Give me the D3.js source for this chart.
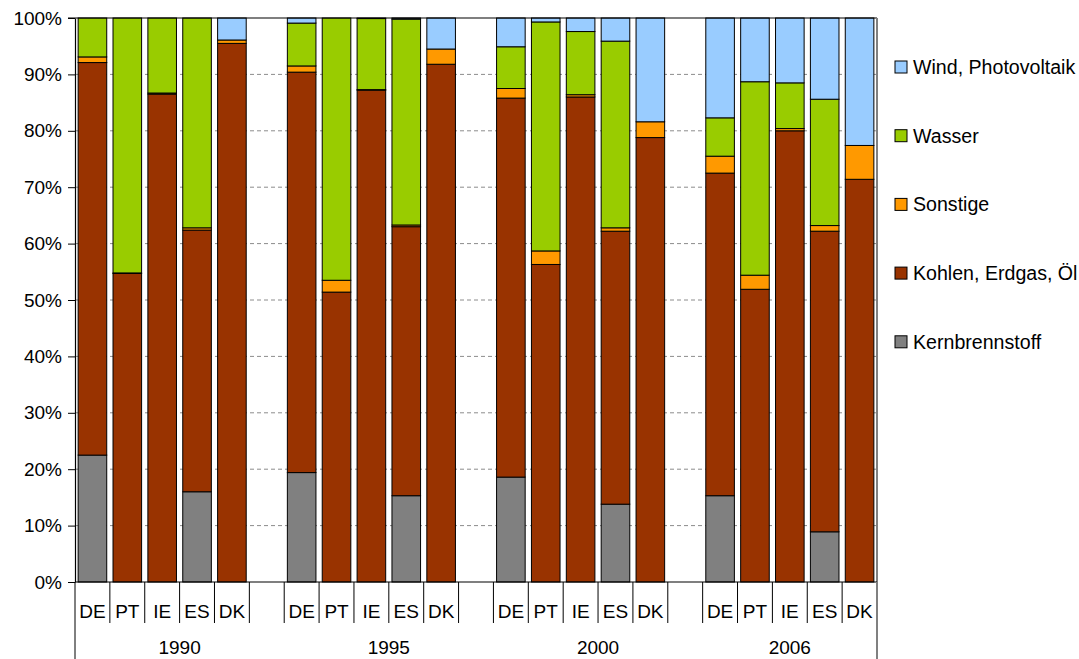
<!DOCTYPE html>
<html>
<head>
<meta charset="utf-8">
<script src="https://cdn.jsdelivr.net/npm/d3@7/dist/d3.min.js"></script>
<style>
  html, body { margin: 0; padding: 0; background: #fff; }
  svg { display: block; font-family: "Liberation Sans", Arial, Helvetica, sans-serif; }
</style>
</head>
<body>
<svg id="chart" width="1079" height="659"></svg>
<script>
// Year groups and countries (one bar per country and year)
const years = ["1990", "1995", "2000", "2006"];
const countries = ["DE", "PT", "IE", "ES", "DK"];

// Series, stacked bottom to top
const seriesNames = ["Kernbrennstoff", "Kohlen, Erdgas, Öl", "Sonstige", "Wasser", "Wind, Photovoltaik"];
const seriesColors = ["#808080", "#993300", "#FF9900", "#99CC00", "#99CCFF"];

// Shares in %, ordered 1990 DE..DK, 1995 DE..DK, 2000 DE..DK, 2006 DE..DK
const kernbrennstoff = [22.5, 0, 0, 16.0, 0,   19.4, 0, 0, 15.3, 0,   18.6, 0, 0, 13.8, 0,   15.3, 0, 0, 8.9, 0];
const fossil         = [69.6, 54.7, 86.5, 46.4, 95.5,   71.0, 51.4, 87.2, 47.7, 91.8,   67.2, 56.3, 86.0, 48.4, 78.8,   57.2, 51.9, 80.0, 53.3, 71.4];
const sonstige       = [1.0, 0.1, 0.2, 0.4, 0.6,   1.1, 2.1, 0.1, 0.3, 2.7,   1.7, 2.4, 0.4, 0.6, 2.8,   3.0, 2.5, 0.4, 1.0, 6.0];
const wasser         = [6.9, 45.2, 13.3, 37.2, 0,   7.6, 46.5, 12.6, 36.5, 0,   7.4, 40.6, 11.2, 33.1, 0,   6.8, 34.3, 8.1, 22.4, 0];
const windPv         = [0, 0, 0, 0, 3.9,   0.9, 0, 0.1, 0.2, 5.5,   5.1, 0.7, 2.4, 4.1, 18.4,   17.7, 11.3, 11.5, 14.4, 22.6];

const yTicks = [0, 10, 20, 30, 40, 50, 60, 70, 80, 90, 100];

const seriesValues = [kernbrennstoff, fossil, sonstige, wasser, windPv];

// Plot area
const plotLeft = 75, plotRight = 877, plotTop = 18, plotBottom = 582;

const svg = d3.select("#chart");

// Category slots: five countries per year, an empty slot between years
const slots = [];
const rows = [];
years.forEach((yr, yi) => {
  countries.forEach((c, ci) => {
    const key = yr + "|" + c;
    slots.push(key);
    const row = { key, year: yr, country: c };
    seriesNames.forEach((s, si) => { row[s] = seriesValues[si][yi * countries.length + ci]; });
    rows.push(row);
  });
  if (yi < years.length - 1) slots.push("gap" + yi);
});

const pad = 0.18;
const x = d3.scaleBand().domain(slots).range([plotLeft, plotRight]).paddingInner(pad).paddingOuter(pad / 2);
const y = d3.scaleLinear().domain([0, 100]).range([plotBottom, plotTop]);
const step = x.step();
const slotStart = k => x(k) - step * pad / 2;

// Gridlines
svg.append("g")
  .selectAll("line")
  .data(yTicks.filter(t => t > 0 && t < 100))
  .join("line")
  .attr("x1", plotLeft).attr("x2", plotRight)
  .attr("y1", d => y(d)).attr("y2", d => y(d))
  .attr("stroke", "#8c8c8c")
  .attr("stroke-width", 1)
  .attr("stroke-dasharray", "4,3");

// Stacked bars
const stack = d3.stack().keys(seriesNames);
const stacked = stack(rows);

svg.append("g")
  .selectAll("g")
  .data(stacked)
  .join("g")
  .attr("fill", (d, i) => seriesColors[i])
  .selectAll("rect")
  .data(d => d.filter(p => p[1] - p[0] > 0))
  .join("rect")
  .attr("x", d => x(d.data.key))
  .attr("width", x.bandwidth())
  .attr("y", d => y(d[1]))
  .attr("height", d => y(d[0]) - y(d[1]))
  .attr("stroke", "#000")
  .attr("stroke-width", 1);

// Frame: top and right edges of the plot area
svg.append("line")
  .attr("x1", plotLeft - 7).attr("x2", plotRight)
  .attr("y1", plotTop).attr("y2", plotTop)
  .attr("stroke", "#000").attr("stroke-width", 1.2);
svg.append("line")
  .attr("x1", plotRight).attr("x2", plotRight)
  .attr("y1", plotTop).attr("y2", 659)
  .attr("stroke", "#808080").attr("stroke-width", 2);

// Y axis
const yAxis = svg.append("g")
  .attr("transform", `translate(${plotLeft},0)`)
  .call(d3.axisLeft(y).tickValues(yTicks).tickFormat(d => d + "%").tickSize(7).tickSizeOuter(0).tickPadding(6));
yAxis.select(".domain").attr("stroke", "#000").attr("stroke-width", 1.2);
yAxis.selectAll(".tick line").attr("stroke", "#000");
yAxis.selectAll(".tick text")
  .attr("font-size", 19)
  .attr("font-family", "\"Liberation Sans\", Arial, Helvetica, sans-serif")
  .attr("fill", "#000");

// Category axis
const xAxis = svg.append("g");
xAxis.append("line")
  .attr("x1", plotLeft).attr("x2", plotRight)
  .attr("y1", plotBottom).attr("y2", plotBottom)
  .attr("stroke", "#000").attr("stroke-width", 1.2);

const boundaries = d3.range(slots.length + 1).map(i => plotLeft + i * step);
xAxis.selectAll("line.tick")
  .data(boundaries)
  .join("line")
  .attr("class", "tick")
  .attr("x1", d => d).attr("x2", d => d)
  .attr("y1", plotBottom)
  .attr("y2", (d, i) => (i === 0 || i === slots.length) ? 659 : 623)
  .attr("stroke", (d, i) => i === slots.length ? "#808080" : "#000")
  .attr("stroke-width", (d, i) => i === slots.length ? 2 : 1);

xAxis.selectAll("text.country")
  .data(rows)
  .join("text")
  .attr("class", "country")
  .attr("x", d => x(d.key) + x.bandwidth() / 2)
  .attr("y", 618)
  .attr("text-anchor", "middle")
  .attr("font-size", 19)
  .attr("fill", "#000")
  .text(d => d.country);

// Year labels: each year spans its countries plus the following empty slot
xAxis.selectAll("text.year")
  .data(years)
  .join("text")
  .attr("class", "year")
  .attr("x", (yr, yi) => {
    const start = slotStart(yr + "|" + countries[0]);
    const nSlots = yi < years.length - 1 ? countries.length + 1 : countries.length;
    return start + nSlots * step / 2;
  })
  .attr("y", 654)
  .attr("text-anchor", "middle")
  .attr("font-size", 19)
  .attr("fill", "#000")
  .text(d => d);

// Legend, top series first
const legendOrder = d3.range(seriesNames.length).reverse();
const legend = svg.append("g")
  .selectAll("g")
  .data(legendOrder)
  .join("g")
  .attr("transform", (d, i) => `translate(895,${67 + i * 68.7})`);
legend.append("rect")
  .attr("x", 0).attr("y", -6)
  .attr("width", 12).attr("height", 12)
  .attr("fill", d => seriesColors[d])
  .attr("stroke", "#000").attr("stroke-width", 1);
legend.append("text")
  .attr("x", 18).attr("y", 7)
  .attr("font-size", 19.6)
  .attr("fill", "#000")
  .text(d => seriesNames[d]);
</script>
</body>
</html>
